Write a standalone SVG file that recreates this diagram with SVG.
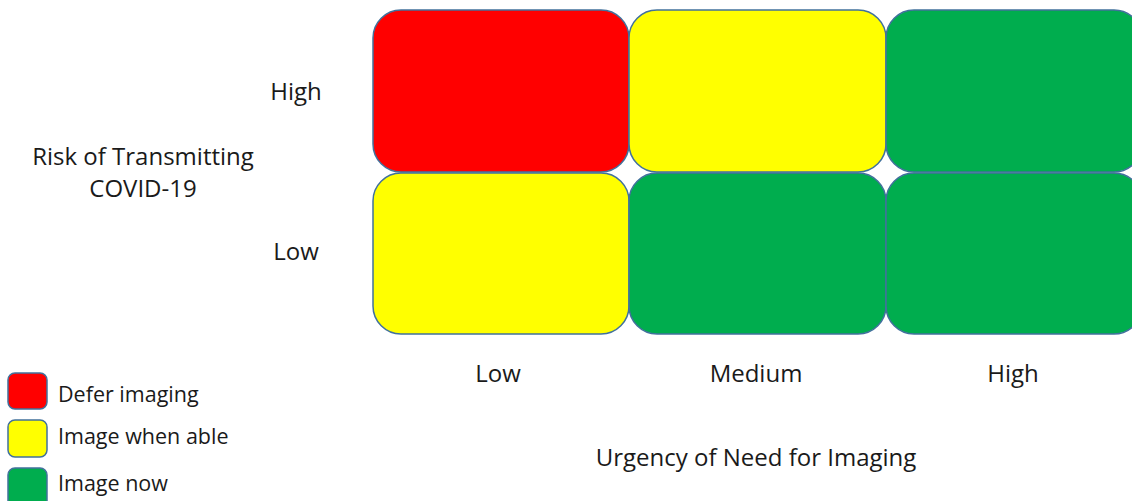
<svg xmlns="http://www.w3.org/2000/svg" width="1132" height="501" viewBox="0 0 1132 501">
<style>
.cell{stroke:#41719C;stroke-width:1.5}
.r{fill:#FF0000}.y{fill:#FFFF00}.g{fill:#00AD4E}
text{font-family:"Open Sans","Liberation Sans",sans-serif;font-size:24px;fill:#1a1a1a}
.m{text-anchor:middle}
.lg{font-size:21.5px}
</style>
<rect width="1132" height="501" fill="#fff"/>
<g id="cell-high-low"><rect class="cell r" x="373" y="10" width="256" height="162" rx="28"/></g>
<g id="cell-high-medium"><rect class="cell y" x="629" y="10" width="257" height="162" rx="28"/></g>
<g id="cell-high-high"><rect class="cell g" x="886" y="10" width="256" height="162" rx="28"/></g>
<g id="cell-low-low"><rect class="cell y" x="373" y="173" width="256" height="161" rx="28"/></g>
<g id="cell-low-medium"><rect class="cell g" x="629" y="173" width="257" height="161" rx="28"/></g>
<g id="cell-low-high"><rect class="cell g" x="886" y="173" width="256" height="161" rx="28"/></g>
<g id="connectors"></g>
<g id="axis-y">
<text class="m" x="296" y="100">High</text>
<text class="m" x="296" y="260">Low</text>
<text class="m" x="143" y="165">Risk of Transmitting</text>
<text class="m" x="143" y="197">COVID-19</text>
</g>
<g id="axis-x">
<text class="m" x="498" y="382">Low</text>
<text class="m" x="756" y="382">Medium</text>
<text class="m" x="1013" y="382">High</text>
<text class="m" x="756" y="466">Urgency of Need for Imaging</text>
</g>
<g id="legend">
<rect class="cell r" x="8" y="373" width="39" height="36" rx="7"/>
<text class="lg" x="58" y="402">Defer imaging</text>
<rect class="cell y" x="8" y="420" width="39" height="37" rx="7"/>
<text class="lg" x="58" y="444">Image when able</text>
<rect class="cell g" x="8" y="468" width="39" height="40" rx="7"/>
<text class="lg" x="58" y="491">Image now</text>
</g>
</svg>
